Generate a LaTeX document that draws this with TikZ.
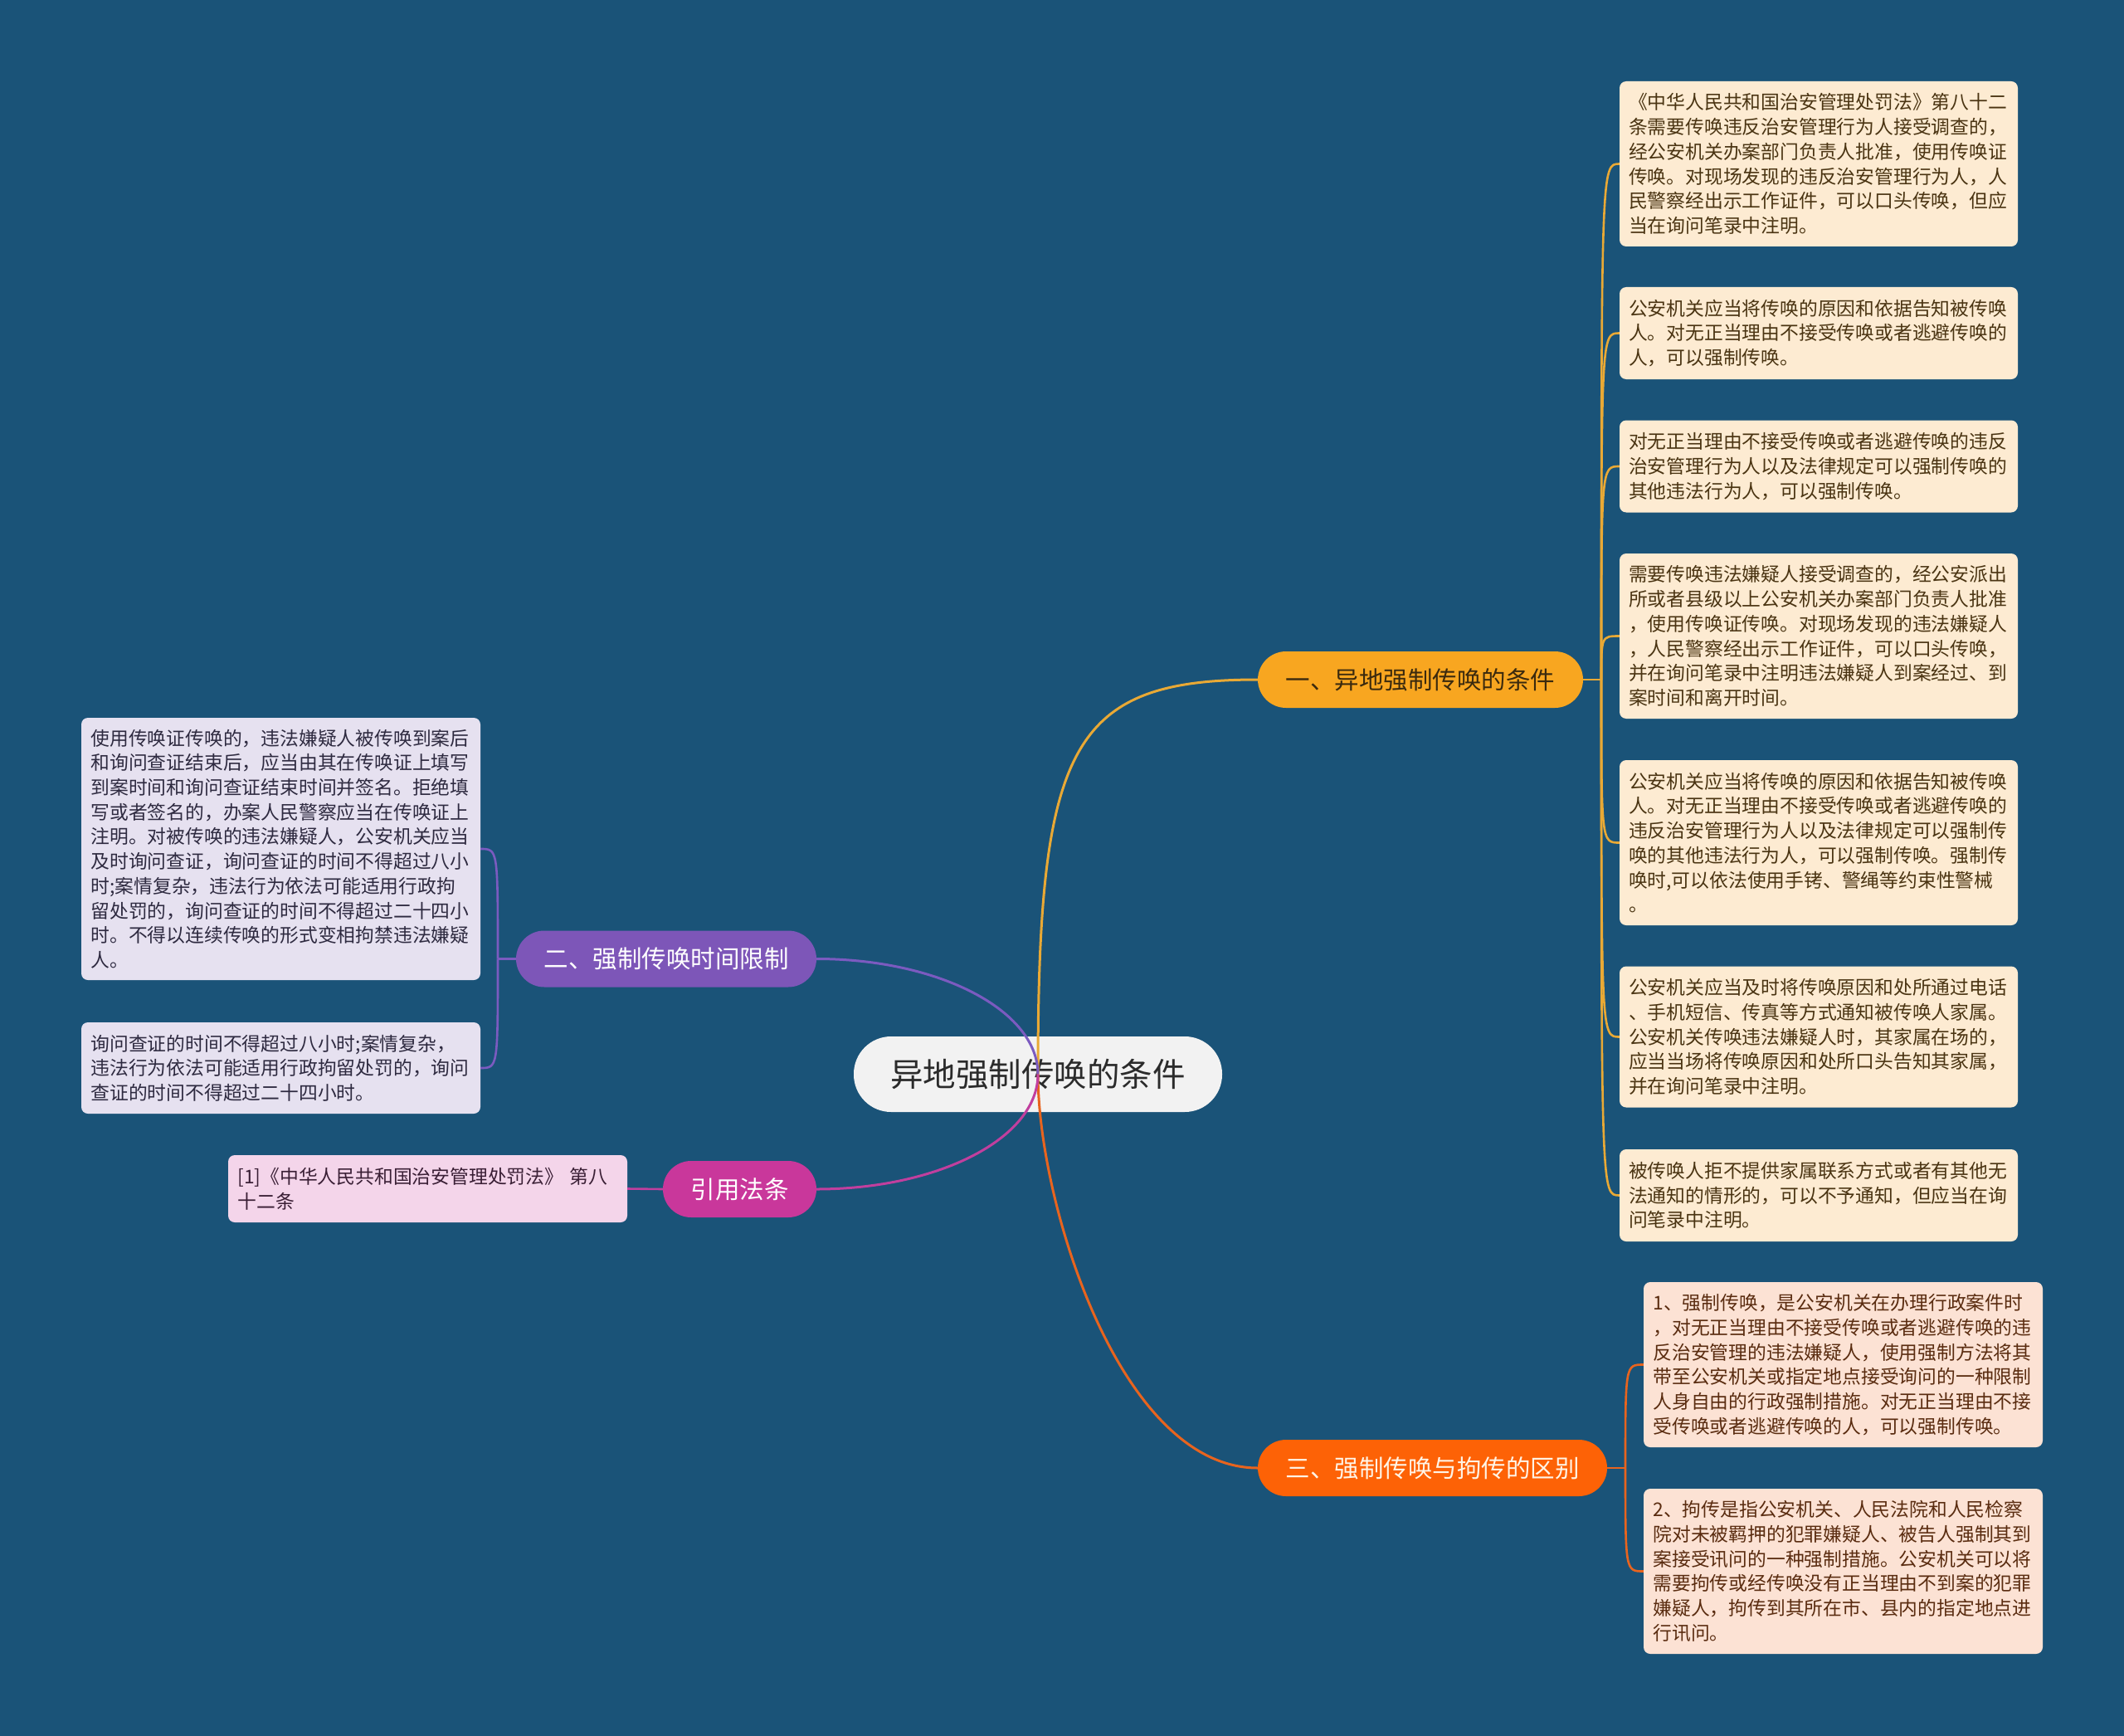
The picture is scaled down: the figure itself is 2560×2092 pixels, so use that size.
\documentclass[tikz,border=0pt]{standalone}
\usepackage{fontspec}
\setmainfont{Noto Sans CJK SC}
\usetikzlibrary{calc}
\definecolor{bg}{HTML}{1A5378}
\definecolor{cfill}{HTML}{F2F2F2}
\definecolor{ctext}{HTML}{2B2B2B}
\definecolor{oafill}{HTML}{F8A620}
\definecolor{oaline}{HTML}{E9A935}
\definecolor{oatext}{HTML}{3B2A0E}
\definecolor{pufill}{HTML}{7D56B8}
\definecolor{puline}{HTML}{7B5BC0}
\definecolor{mgfill}{HTML}{C9379B}
\definecolor{mgline}{HTML}{C13F9E}
\definecolor{orfill}{HTML}{FD6206}
\definecolor{orline}{HTML}{E8641E}
\definecolor{ortext}{HTML}{FFF4E6}
\definecolor{lfcream}{HTML}{FDEBD2}
\definecolor{lfcreamtext}{HTML}{4A3412}
\definecolor{lfpeach}{HTML}{FCE2D4}
\definecolor{lfpeachtext}{HTML}{5A2C10}
\definecolor{lflav}{HTML}{E6E1F0}
\definecolor{lflavtext}{HTML}{2E2A40}
\definecolor{lfpink}{HTML}{F4D5EA}
\definecolor{lfpinktext}{HTML}{3A1F35}
\begin{document}
\begin{tikzpicture}[x=1pt,y=-1pt,
  leaf/.style={rectangle, rounded corners=8pt, minimum width=480pt, text width=458pt,
    align=left, inner xsep=11pt, inner ysep=0pt,
    font=\fontsize{22.8pt}{29.7pt}\selectfont},
  topic/.style={rectangle, rounded corners=34pt, minimum height=68pt, inner xsep=0pt,
    font=\fontsize{29.5pt}{35pt}\selectfont},
  conn/.style={line width=3pt},
  subconn/.style={line width=2.6pt}]
\useasboundingbox (0,0) rectangle (2560,2092);
\fill[bg] (0,0) rectangle (2560,2092);

% central topic
\node[rectangle, rounded corners=45pt, minimum width=444pt, minimum height=91pt,
  fill=cfill, text=ctext, font=\fontsize{39.5pt}{45pt}\selectfont] (c) at (1251,1294.5) {异地强制传唤的条件};

% main topics
\node[topic, fill=oafill, text=oatext, minimum width=392pt] (b1) at (1712,819) {一、异地强制传唤的条件};
\node[topic, fill=pufill, text=white, minimum width=362pt] (b2) at (803,1155.5) {二、强制传唤时间限制};
\node[topic, fill=mgfill, text=white, minimum width=185pt] (b3) at (891.5,1433) {引用法条};
\node[topic, fill=orfill, text=ortext, minimum width=421pt] (b4) at (1726.5,1769) {三、强制传唤与拘传的区别};

% right leaves of branch 1
\node[leaf, fill=lfcream, text=lfcreamtext, minimum height=199pt] (r1) at (2192,197.5) {《中华人民共和国治安管理处罚法》第八十二\\条需要传唤违反治安管理行为人接受调查的，\\经公安机关办案部门负责人批准，使用传唤证\\传唤。对现场发现的违反治安管理行为人，人\\民警察经出示工作证件，可以口头传唤，但应\\当在询问笔录中注明。};
\node[leaf, fill=lfcream, text=lfcreamtext, minimum height=111pt] (r2) at (2192,401.5) {公安机关应当将传唤的原因和依据告知被传唤\\人。对无正当理由不接受传唤或者逃避传唤的\\人，可以强制传唤。};
\node[leaf, fill=lfcream, text=lfcreamtext, minimum height=111pt] (r3) at (2192,562) {对无正当理由不接受传唤或者逃避传唤的违反\\治安管理行为人以及法律规定可以强制传唤的\\其他违法行为人，可以强制传唤。};
\node[leaf, fill=lfcream, text=lfcreamtext, minimum height=199pt] (r4) at (2192,766.5) {需要传唤违法嫌疑人接受调查的，经公安派出\\所或者县级以上公安机关办案部门负责人批准\\，使用传唤证传唤。对现场发现的违法嫌疑人\\，人民警察经出示工作证件，可以口头传唤，\\并在询问笔录中注明违法嫌疑人到案经过、到\\案时间和离开时间。};
\node[leaf, fill=lfcream, text=lfcreamtext, minimum height=199pt] (r5) at (2192,1015.5) {公安机关应当将传唤的原因和依据告知被传唤\\人。对无正当理由不接受传唤或者逃避传唤的\\违反治安管理行为人以及法律规定可以强制传\\唤的其他违法行为人，可以强制传唤。强制传\\唤时,可以依法使用手铐、警绳等约束性警械\\。};
\node[leaf, fill=lfcream, text=lfcreamtext, minimum height=170pt] (r6) at (2192,1249.5) {公安机关应当及时将传唤原因和处所通过电话\\、手机短信、传真等方式通知被传唤人家属。\\公安机关传唤违法嫌疑人时，其家属在场的，\\应当当场将传唤原因和处所口头告知其家属，\\并在询问笔录中注明。};
\node[leaf, fill=lfcream, text=lfcreamtext, minimum height=111pt] (r7) at (2192,1440.5) {被传唤人拒不提供家属联系方式或者有其他无\\法通知的情形的，可以不予通知，但应当在询\\问笔录中注明。};

% right leaves of branch 3
\node[leaf, fill=lfpeach, text=lfpeachtext, minimum width=481pt, minimum height=199pt] (s1) at (2221.5,1644.5) {1、强制传唤，是公安机关在办理行政案件时\\，对无正当理由不接受传唤或者逃避传唤的违\\反治安管理的违法嫌疑人，使用强制方法将其\\带至公安机关或指定地点接受询问的一种限制\\人身自由的行政强制措施。对无正当理由不接\\受传唤或者逃避传唤的人，可以强制传唤。};
\node[leaf, fill=lfpeach, text=lfpeachtext, minimum width=481pt, minimum height=199pt] (s2) at (2221.5,1893.5) {2、拘传是指公安机关、人民法院和人民检察\\院对未被羁押的犯罪嫌疑人、被告人强制其到\\案接受讯问的一种强制措施。公安机关可以将\\需要拘传或经传唤没有正当理由不到案的犯罪\\嫌疑人，拘传到其所在市、县内的指定地点进\\行讯问。};

% left leaves of branch 2
\node[leaf, fill=lflav, text=lflavtext, minimum width=481pt, minimum height=316pt] (l1) at (338.5,1023) {使用传唤证传唤的，违法嫌疑人被传唤到案后\\和询问查证结束后，应当由其在传唤证上填写\\到案时间和询问查证结束时间并签名。拒绝填\\写或者签名的，办案人民警察应当在传唤证上\\注明。对被传唤的违法嫌疑人，公安机关应当\\及时询问查证，询问查证的时间不得超过八小\\时;案情复杂，违法行为依法可能适用行政拘\\留处罚的，询问查证的时间不得超过二十四小\\时。不得以连续传唤的形式变相拘禁违法嫌疑\\人。};
\node[leaf, fill=lflav, text=lflavtext, minimum width=481pt, minimum height=110pt] (l2) at (338.5,1287) {询问查证的时间不得超过八小时;案情复杂，\\违法行为依法可能适用行政拘留处罚的，询问\\查证的时间不得超过二十四小时。};

% reference leaf
\node[leaf, fill=lfpink, text=lfpinktext, minimum width=481pt, minimum height=81pt] (q1) at (515.5,1432.5) {[1]《中华人民共和国治安管理处罚法》 第八\\十二条};

% junctions
\coordinate (j1) at (1930,819);
\coordinate (j2) at (600,1155.5);
\coordinate (j4) at (1959,1769);

% main connectors (drawn over the central topic)
\draw[conn, oaline] (c.center) .. controls ($(c.center)+(0,-395)$) and ($(b1.west)+(-226,0)$) .. (b1.west);
\draw[conn, orline] (c.center) .. controls ($(c.center)+(0,155)$) and ($(b4.west)+(-166,0)$) .. (b4.west);
\draw[conn, puline] (b2.east) .. controls ($(b2.east)+(147,0)$) and ($(c.center)+(0,-77)$) .. (c.center);
\draw[conn, mgline] (b3.east) .. controls ($(b3.east)+(147,0)$) and ($(c.center)+(0,77)$) .. (c.center);

% sub connectors, branch 1
\draw[subconn, oaline] (b1.east) -- (j1);
\foreach \n in {r1,r2,r3,r4,r5,r6,r7}
  \draw[subconn, oaline] (j1) .. controls (j1 |- \n.west) .. (\n.west);

% sub connectors, branch 4
\draw[subconn, orline] (b4.east) -- (j4);
\foreach \n in {s1,s2}
  \draw[subconn, orline] (j4) .. controls (j4 |- \n.west) .. (\n.west);

% sub connectors, branch 2
\draw[subconn, puline] (b2.west) -- (j2);
\foreach \n in {l1,l2}
  \draw[subconn, puline] (j2) .. controls (j2 |- \n.east) .. (\n.east);

% branch 3
\draw[subconn, mgline] (b3.west) -- (q1.east);
\end{tikzpicture}
\end{document}
